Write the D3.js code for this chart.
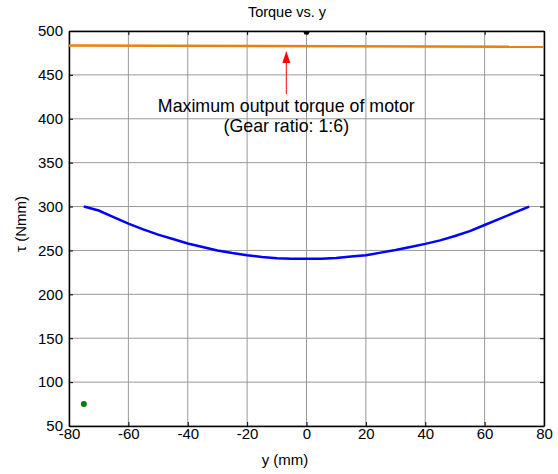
<!DOCTYPE html>
<meta charset="utf-8">
<head>
    <script type="text/javascript" src="https://cdn.jsdelivr.net/npm/d3@7"></script>
    <style>
        body { margin: 0; background: #fff; }
        text { font-family: Arial, "Liberation Sans", sans-serif; }
    </style>
    <title>Torque vs. y</title>
</head>
<body>
<script>

    var width = 558
    var height = 474

    // blue curve: torque needed along y (mm)
    var yPos = [-75, -70, -65, -60, -55, -50, -45, -40, -35, -30, -25, -20, -15, -10, -5,
        0, 5, 10, 15, 20, 25, 30, 35, 40, 45, 50, 55, 60, 65, 70, 75]
    var torque = [300, 295.5, 288, 280.5, 274, 268, 263, 258, 254, 250, 247, 244.5, 242.5, 241, 240.5,
        240.5, 240.5, 241.5, 243, 244.5, 247.5, 250.5, 254, 257.5, 261.5, 266.5, 272, 279, 286, 293, 300]

    // orange line: max output torque of motor
    var motorY = [-80, 80]
    var motorTorque = [483.5, 482]

    var greenPoint = [-75, 75]
    var blackPoint = [0, 500]

    var xTicks = [-80, -60, -40, -20, 0, 20, 40, 60, 80]
    var yTicks = [50, 100, 150, 200, 250, 300, 350, 400, 450, 500]

    var svg = d3.select("body").append("svg")
        .attr("width", width)
        .attr("height", height)

    var x = d3.scaleLinear().domain([-80, 80]).range([69, 544])
    var y = d3.scaleLinear().domain([50, 500]).range([426, 31])

    var plain = d => String(d)

    // grid
    svg.append("g")
        .selectAll("line")
        .data(xTicks)
        .enter().append("line")
        .attr("x1", d => x(d)).attr("x2", d => x(d))
        .attr("y1", y(50)).attr("y2", y(500))
        .style("stroke", "#999").style("stroke-width", 1)

    svg.append("g")
        .selectAll("line")
        .data(yTicks)
        .enter().append("line")
        .attr("x1", x(-80)).attr("x2", x(80))
        .attr("y1", d => y(d)).attr("y2", d => y(d))
        .style("stroke", "#999").style("stroke-width", 1)

    // axes, ticks inside like matlab
    var xAxis = svg.append("g")
        .attr("transform", "translate(0," + y(50) + ")")
        .call(d3.axisBottom(x).tickValues(xTicks).tickSize(-4).tickFormat(plain).tickSizeOuter(0))
    svg.append("g")
        .attr("transform", "translate(0," + y(500) + ")")
        .call(d3.axisTop(x).tickValues(xTicks).tickSize(-4).tickFormat("").tickSizeOuter(0))
    var yAxis = svg.append("g")
        .attr("transform", "translate(" + x(-80) + ",0)")
        .call(d3.axisLeft(y).tickValues(yTicks).tickSize(-4).tickPadding(6).tickFormat(plain).tickSizeOuter(0))
    svg.append("g")
        .attr("transform", "translate(" + x(80) + ",0)")
        .call(d3.axisRight(y).tickValues(yTicks).tickSize(-4).tickFormat("").tickSizeOuter(0))

    svg.selectAll(".domain").style("stroke", "#000").style("stroke-width", 1.5)
    svg.selectAll(".tick line").style("stroke", "#000")
    svg.selectAll(".tick text")
        .style("font-size", "15px")
        .style("fill", "#000")
        .style("font-family", "Arial, 'Liberation Sans', sans-serif")
    xAxis.selectAll(".tick text").attr("y", 13).attr("dy", 0)

    // orange motor line
    svg.append("path")
        .datum(d3.zip(motorY, motorTorque))
        .attr("d", d3.line().x(d => x(d[0])).y(d => y(d[1])))
        .style("fill", "none")
        .style("stroke", "#e8820c")
        .style("stroke-width", 2.5)

    // blue torque curve
    svg.append("path")
        .datum(d3.zip(yPos, torque))
        .attr("d", d3.line().x(d => x(d[0])).y(d => y(d[1])))
        .style("fill", "none")
        .style("stroke", "#0000ff")
        .style("stroke-width", 2.5)

    svg.append("circle")
        .attr("cx", x(greenPoint[0])).attr("cy", y(greenPoint[1]))
        .attr("r", 3)
        .style("fill", "#008000")

    // small black marker sitting under the top edge
    var bx = x(blackPoint[0]), by = y(blackPoint[1])
    svg.append("path")
        .attr("d", "M" + (bx - 3.5) + "," + by + " L" + (bx + 3.5) + "," + by +
            " L" + (bx + 2) + "," + (by + 3.5) + " L" + (bx - 2) + "," + (by + 3.5) + " Z")
        .style("fill", "#000")

    // annotation arrow
    var ax = x(-6.8)
    svg.append("line")
        .attr("x1", ax).attr("x2", ax)
        .attr("y1", 94).attr("y2", 60)
        .style("stroke", "#ff0000").style("stroke-width", 1)
    svg.append("path")
        .attr("d", "M" + ax + ",51 L" + (ax - 4) + ",63 L" + (ax + 4) + ",63 Z")
        .style("fill", "#ff0000")

    svg.append("text")
        .attr("x", ax).attr("y", 112)
        .attr("text-anchor", "middle")
        .style("font-size", "17.8px")
        .text("Maximum output torque of motor")
    svg.append("text")
        .attr("x", ax).attr("y", 132)
        .attr("text-anchor", "middle")
        .style("font-size", "17.8px")
        .text("(Gear ratio: 1:6)")

    // title and labels
    svg.append("text")
        .attr("x", 287).attr("y", 17)
        .attr("text-anchor", "middle")
        .style("font-size", "14.5px")
        .text("Torque vs. y")

    svg.append("text")
        .attr("x", 285).attr("y", 465)
        .attr("text-anchor", "middle")
        .style("font-size", "15px")
        .text("y (mm)")

    svg.append("text")
        .attr("transform", "translate(26,224) rotate(-90)")
        .attr("text-anchor", "middle")
        .style("font-size", "15px")
        .text("τ (Nmm)")

</script>
</body>
</html>
